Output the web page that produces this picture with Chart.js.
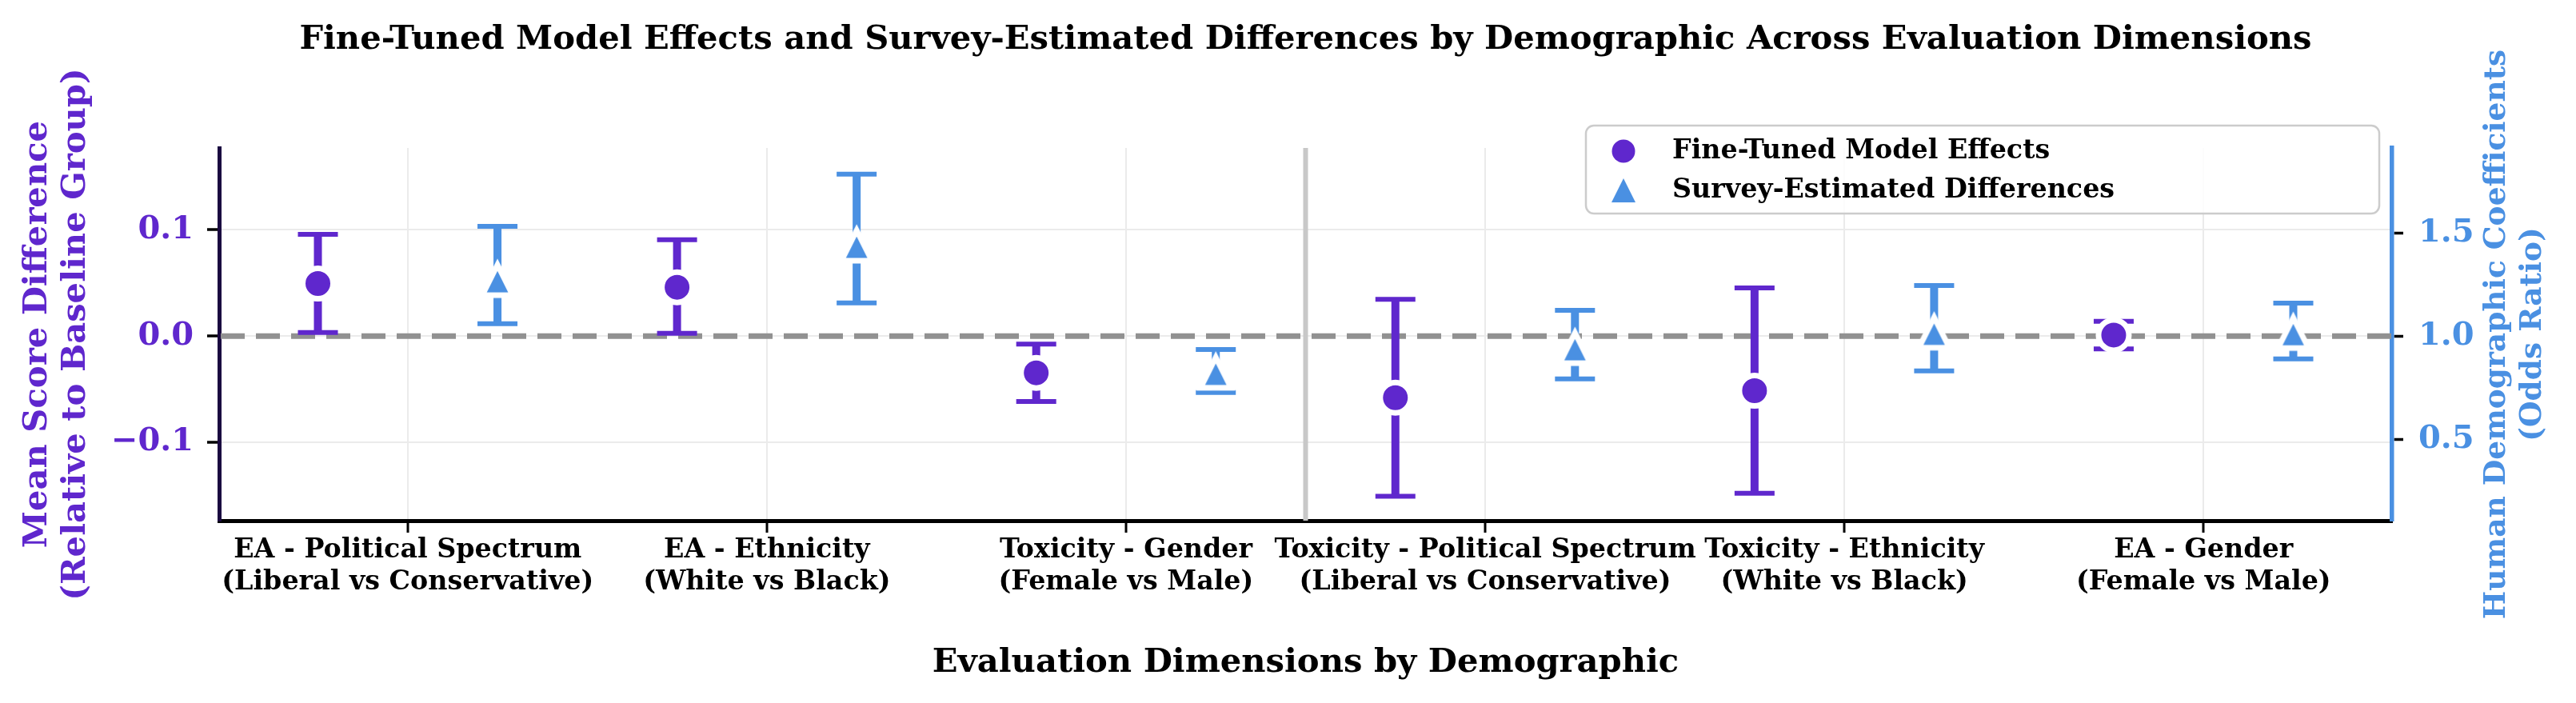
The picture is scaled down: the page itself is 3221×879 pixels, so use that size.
<!DOCTYPE html>
<html>
<head>
<meta charset="utf-8">
<script src="https://cdn.jsdelivr.net/npm/chart.js@4.4.1/dist/chart.umd.min.js"></script>
<style>
  html, body { margin: 0; padding: 0; background: #fff; }
  canvas { display: block; }
</style>
</head>
<body>
<canvas id="effectsChart" width="3221" height="879"></canvas>
<script>
// Categories (evaluation dimension / demographic contrast)
const categories = [
    'EA - Political Spectrum\n(Liberal vs Conservative)',
    'EA - Ethnicity\n(White vs Black)',
    'Toxicity - Gender\n(Female vs Male)',
    'Toxicity - Political Spectrum\n(Liberal vs Conservative)',
    'Toxicity - Ethnicity\n(White vs Black)',
    'EA - Gender\n(Female vs Male)'
];

// Fine-tuned model effects (left axis, mean score difference) with interval ends
const modelEffect = [0.0495, 0.046, -0.0346, -0.058, -0.0515, 0.001];
const modelLow    = [0.0033, 0.0026, -0.0617, -0.151, -0.148, -0.012];
const modelHigh   = [0.0959, 0.0907, -0.0075, 0.0347, 0.0453, 0.014];

// Survey-estimated differences (right axis, odds ratio) with interval ends
const surveyEffect = [1.273, 1.440, 0.825, 0.944, 1.019, 1.017];
const surveyLow    = [1.061, 1.162, 0.728, 0.794, 0.833, 0.891];
const surveyHigh   = [1.533, 1.785, 0.937, 1.126, 1.246, 1.161];

// Axis ticks and ranges
const leftTicks = [-0.1, 0.0, 0.1];
const rightTicks = [0.5, 1.0, 1.5];
const leftRange = [-0.1739, 0.1772];
const rightRange = [0.108, 1.912];
const xRange = [-0.525, 5.525];
const groupSplit = 2.5;
const zeroLine = 0;

const PURPLE = '#5f27cd';
const BLUE = '#4a90e2';
const FONT = 'DejaVu Serif';
const OFFSET = 0.25;

Chart.defaults.font.family = FONT;

// matplotlib-like '^' marker: square bbox, white edge
function makeTriangle(s, lw, fill) {
    const size = Math.ceil(2 * (s + lw * 1.4)) + 2;
    const c = document.createElement('canvas');
    c.width = size; c.height = size;
    const g = c.getContext('2d');
    const m = size / 2;
    g.beginPath();
    g.moveTo(m, m - s);
    g.lineTo(m + s, m + s);
    g.lineTo(m - s, m + s);
    g.closePath();
    g.fillStyle = fill;
    g.fill();
    if (lw > 0) {
        g.lineJoin = 'miter';
        g.miterLimit = 10;
        g.lineWidth = lw;
        g.strokeStyle = '#fff';
        g.stroke();
    }
    return c;
}
const triangleMarker = makeTriangle(19, 7, BLUE);
const triangleLegend = makeTriangle(15, 0, BLUE);

function fmtTick(v) {
    const s = Math.abs(v).toFixed(1);
    return v < 0 ? '\u2212' + s : s;
}

// separator, zero line and error bars, drawn under the markers
const errorBarPlugin = {
    id: 'errorBars',
    beforeDatasetsDraw(chart) {
        const {ctx, chartArea, scales} = chart;
        ctx.save();
        const sx = scales.x.getPixelForValue(groupSplit);
        ctx.strokeStyle = '#c8c8c8';
        ctx.lineWidth = 6;
        ctx.beginPath();
        ctx.moveTo(sx, chartArea.top);
        ctx.lineTo(sx, chartArea.bottom);
        ctx.stroke();

        const zy = scales.y.getPixelForValue(zeroLine);
        ctx.setLineDash([30, 14]);
        ctx.strokeStyle = '#919191';
        ctx.lineWidth = 7;
        ctx.beginPath();
        ctx.moveTo(chartArea.left + 2, zy);
        ctx.lineTo(chartArea.right, zy);
        ctx.stroke();
        ctx.setLineDash([]);

        chart.data.datasets.forEach(ds => {
            const yScale = scales[ds.yAxisID];
            ctx.strokeStyle = ds.backgroundColor;
            ds.data.forEach((pt, i) => {
                const x = scales.x.getPixelForValue(pt.x);
                const yLo = yScale.getPixelForValue(ds.low[i]);
                const yHi = yScale.getPixelForValue(ds.high[i]);
                ctx.lineWidth = 10;
                ctx.beginPath();
                ctx.moveTo(x, yLo);
                ctx.lineTo(x, yHi);
                ctx.stroke();
                ctx.lineWidth = 6;
                ctx.beginPath();
                ctx.moveTo(x - 25, yLo); ctx.lineTo(x + 25, yLo);
                ctx.moveTo(x - 25, yHi); ctx.lineTo(x + 25, yHi);
                ctx.stroke();
            });
        });
        ctx.restore();
    }
};

// legend box inside the top right and the right-hand axis title
const overlayPlugin = {
    id: 'overlay',
    afterDraw(chart) {
        const {ctx, chartArea, scales} = chart;
        ctx.save();
        const bx = chartArea.right - 1008, by = chartArea.top - 28, bw = 992, bh = 110;
        ctx.beginPath();
        ctx.roundRect(bx, by, bw, bh, 10);
        ctx.fillStyle = 'rgba(255,255,255,0.85)';
        ctx.fill();
        ctx.lineWidth = 2.5;
        ctx.strokeStyle = '#cccccc';
        ctx.stroke();

        const rows = [
            {text: chart.data.datasets[0].label, y: by + 32},
            {text: chart.data.datasets[1].label, y: by + 81}
        ];
        ctx.fillStyle = PURPLE;
        ctx.beginPath();
        ctx.arc(bx + 47, rows[0].y, 14.5, 0, Math.PI * 2);
        ctx.fill();
        Chart.helpers.drawPoint(ctx, {pointStyle: triangleLegend, radius: 15, rotation: 0, borderWidth: 0}, bx + 47, rows[1].y);
        ctx.fillStyle = '#000';
        ctx.font = 'bold 33.3px "' + FONT + '"';
        ctx.textAlign = 'left';
        ctx.textBaseline = 'middle';
        rows.forEach(r => ctx.fillText(r.text, bx + 108, r.y));

        // right axis title reads bottom-to-top like matplotlib
        const cy = (chartArea.top + chartArea.bottom) / 2;
        ctx.translate(scales.y2.left + 131, cy);
        ctx.rotate(-Math.PI / 2);
        ctx.fillStyle = BLUE;
        ctx.font = 'bold 37.5px "' + FONT + '"';
        ctx.textAlign = 'center';
        ctx.fillText('Human Demographic Coefficients', 0, 0);
        ctx.fillText('(Odds Ratio)', 0, 45);
        ctx.restore();
    }
};

const ctx = document.getElementById('effectsChart').getContext('2d');
new Chart(ctx, {
    type: 'scatter',
    data: {
        datasets: [{
            label: 'Fine-Tuned Model Effects',
            data: modelEffect.map((v, i) => ({x: i - OFFSET, y: v})),
            low: modelLow,
            high: modelHigh,
            yAxisID: 'y',
            backgroundColor: PURPLE,
            borderColor: '#ffffff',
            borderWidth: 7,
            pointStyle: 'circle',
            pointRadius: 19,
            pointHoverRadius: 19
        }, {
            label: 'Survey-Estimated Differences',
            data: surveyEffect.map((v, i) => ({x: i + OFFSET, y: v})),
            low: surveyLow,
            high: surveyHigh,
            yAxisID: 'y2',
            backgroundColor: BLUE,
            borderColor: '#ffffff',
            borderWidth: 0,
            pointStyle: triangleMarker,
            pointRadius: 19,
            pointHoverRadius: 19
        }]
    },
    options: {
        responsive: false,
        devicePixelRatio: 1,
        animation: false,
        events: [],
        layout: {padding: 0},
        plugins: {
            legend: {display: false},
            tooltip: {enabled: false},
            title: {
                display: true,
                fullSize: false,
                text: 'Fine-Tuned Model Effects and Survey-Estimated Differences by Demographic Across Evaluation Dimensions',
                color: '#000',
                font: {family: FONT, size: 41.7, weight: 'bold', lineHeight: 1.2},
                padding: {top: 25, bottom: 110}
            }
        },
        scales: {
            x: {
                type: 'linear',
                position: 'bottom',
                min: xRange[0],
                max: xRange[1],
                afterBuildTicks: axis => { axis.ticks = categories.map((c, i) => ({value: i})); },
                afterFit: axis => { axis.height = 228; },
                ticks: {
                    autoSkip: false,
                    maxRotation: 0,
                    minRotation: 0,
                    color: '#000',
                    padding: 2,
                    font: {family: FONT, size: 33.3, weight: 'bold', lineHeight: 1.2},
                    callback: v => categories[Math.round(v)].split('\n')
                },
                grid: {color: '#ebebeb', lineWidth: 2, tickColor: '#000', tickLength: 15, tickWidth: 3},
                border: {color: '#000', width: 5},
                title: {
                    display: true,
                    text: 'Evaluation Dimensions by Demographic',
                    color: '#000',
                    font: {family: FONT, size: 41.7, weight: 'bold', lineHeight: 1.2},
                    padding: {top: 0, bottom: 25}
                }
            },
            y: {
                type: 'linear',
                position: 'left',
                min: leftRange[0],
                max: leftRange[1],
                afterBuildTicks: axis => { axis.ticks = leftTicks.map(v => ({value: v})); },
                afterFit: axis => { axis.width = 274; },
                ticks: {
                    color: PURPLE,
                    padding: 17,
                    font: {family: FONT, size: 40, weight: 'bold'},
                    callback: v => fmtTick(v)
                },
                grid: {color: '#ebebeb', lineWidth: 2, tickColor: '#000', tickLength: 15, tickWidth: 3.5},
                border: {color: '#1a0840', width: 5},
                title: {
                    display: true,
                    text: ['Mean Score Difference', '(Relative to Baseline Group)'],
                    color: PURPLE,
                    font: {family: FONT, size: 41.7, weight: 'bold', lineHeight: 1.16},
                    padding: {top: 23, bottom: 0}
                }
            },
            y2: {
                type: 'linear',
                position: 'right',
                min: rightRange[0],
                max: rightRange[1],
                afterBuildTicks: axis => { axis.ticks = rightTicks.map(v => ({value: v})); },
                afterFit: axis => { axis.width = 230; },
                ticks: {
                    color: BLUE,
                    padding: 19,
                    font: {family: FONT, size: 40, weight: 'bold'},
                    callback: v => fmtTick(v)
                },
                grid: {drawOnChartArea: false, tickColor: '#000', tickLength: 14, tickWidth: 3.5},
                border: {color: BLUE, width: 5.5}
            }
        }
    },
    plugins: [errorBarPlugin, overlayPlugin]
});
</script>
</body>
</html>
